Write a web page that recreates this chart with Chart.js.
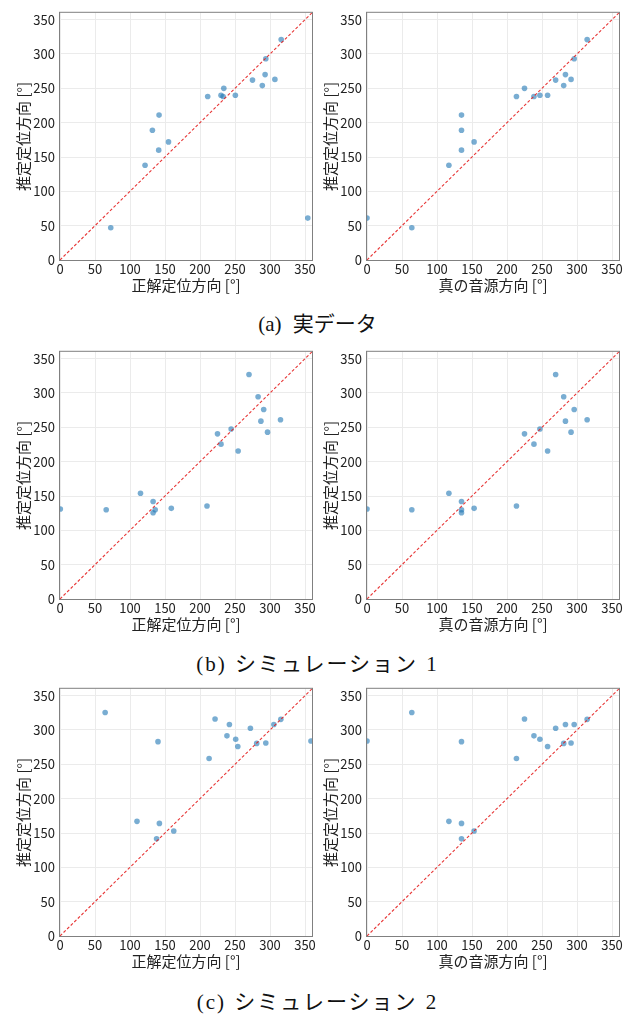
<!DOCTYPE html>
<html>
<head>
<meta charset="utf-8">
<script src="https://cdn.jsdelivr.net/npm/chart.js@4/dist/chart.umd.min.js"></script>
<style>
  body { margin: 0; background: #fff; }
  #page { position: relative; width: 633px; height: 1016px; overflow: hidden; }
  canvas { position: absolute; }
  .caption {
    position: absolute; left: 0; width: 635px; text-align: center;
    font-family: "Liberation Serif", "Noto Sans CJK JP", serif;
    font-size: 21px; line-height: 24px; color: #111; word-spacing: 6px;
  }
  .spaced { letter-spacing: 2px; word-spacing: 1px; }
</style>
</head>
<body>
<div id="page">
  <canvas id="a1"></canvas><canvas id="a2"></canvas>
  <div class="caption" style="top:312px">(a) 実データ</div>
  <canvas id="b1"></canvas><canvas id="b2"></canvas>
  <div class="caption spaced" style="top:652px">(b) シミュレーション 1</div>
  <canvas id="c1"></canvas><canvas id="c2"></canvas>
  <div class="caption spaced" style="top:990px">(c) シミュレーション 2</div>
</div>
<script>
// tick labels and the y = x reference range
const tickValues = [0, 50, 100, 150, 200, 250, 300, 350];
const diagonalRange = [0, 360];

// (a) real data: estimated direction, correct localisation direction, true source direction
const estReal = [61, 47, 138, 189, 211, 160, 172, 238, 240, 250, 238, 240, 262, 254, 270, 293, 263, 321];
const correctReal = [354, 72.5, 121.5, 132, 141.5, 141, 155, 211, 230, 234, 233, 250.5, 275, 289, 293, 294, 307, 316];
const trueReal = [0, 64, 117, 135, 135, 135, 153, 213.5, 247, 225, 238.5, 258, 269.5, 281, 283.5, 296, 291.5, 314.5];

// (b) simulation 1
const estSim1 = [131, 130, 154, 142, 125.5, 130, 132, 135.5, 240.5, 225.5, 247.5, 215.5, 327, 294.5, 276, 259, 243, 261];
const correctSim1 = [0.5, 66, 115, 133, 133, 136, 159, 210, 225, 230, 244.5, 254.5, 270, 283, 291, 287, 296.5, 315];
const trueSim1 = [0, 64, 117, 135, 135, 135, 153, 213.5, 225, 238.5, 247, 258, 269.5, 281, 296, 283.5, 291.5, 314.5];

// (c) simulation 2
const estSim2 = [325.5, 283, 167, 164, 141.5, 153, 258.5, 316, 291.5, 308, 286.5, 276, 302.5, 280.5, 281, 308, 315.5, 284];
const correctSim2 = [64.5, 140, 110, 142, 138, 162.5, 213, 221.5, 238.5, 242, 251, 254, 272, 281, 294, 305.5, 315.5, 358.5];
const trueSim2 = [64, 135, 117, 135, 135, 153, 213.5, 225, 238.5, 283.5, 247, 258, 269.5, 281, 291.5, 296, 314.5, 0];

const yTitle = '推定定位方向 [°]';
const xTitleCorrect = '正解定位方向 [°]';
const xTitleTrue = '真の音源方向 [°]';

const FONT = '"Noto Sans CJK JP", "Noto Sans", sans-serif';
const PW = 252;          // plot area side
const LEFT_COL = 60;     // plot left, left column
const RIGHT_COL = 367;   // plot left, right column
const ROW_TOPS = [8, 347, 684];

// grey box round the plot area
const framePlugin = {
    id: 'frame',
    afterDatasetsDraw(chart) {
        const { ctx, chartArea: a } = chart;
        ctx.save();
        ctx.strokeStyle = '#808080';
        ctx.lineWidth = 1;
        ctx.strokeRect(a.left - 0.5, a.top - 0.5, a.right - a.left + 1, a.bottom - a.top + 1);
        ctx.restore();
    }
};

function makePanel(id, plotLeft, plotTop, xs, ys, xTitle) {
    const canvas = document.getElementById(id);
    const w = 60 + PW + 8, h = 8 + PW + 34;
    canvas.width = w;
    canvas.height = h;
    canvas.style.left = (plotLeft - 60) + 'px';
    canvas.style.top = (plotTop - 8) + 'px';

    const axis = (title, size, pad) => ({
        type: 'linear',
        min: 0,
        max: 360,
        afterBuildTicks: s => { s.ticks = tickValues.map(v => ({ value: v })); },
        afterFit: size,
        grid: { color: '#ebebeb', drawTicks: false },
        border: { display: false },
        ticks: { padding: pad, color: '#222', autoSkip: false, maxRotation: 0, font: { family: FONT, size: 13 } },
        title: { display: true, text: title, color: '#222', padding: 0, font: { family: FONT, size: 15 } }
    });

    return new Chart(canvas.getContext('2d'), {
        type: 'scatter',
        data: {
            datasets: [
                {
                    data: xs.map((x, i) => ({ x: x, y: ys[i] })),
                    backgroundColor: 'rgba(31, 119, 180, 0.6)',
                    pointRadius: 2.8,
                    pointBorderWidth: 0,
                    clip: 0,
                    order: 1
                },
                {
                    data: diagonalRange.map(v => ({ x: v, y: v })),
                    showLine: true,
                    borderColor: 'rgba(228, 30, 30, 0.9)',
                    borderWidth: 1.1,
                    borderDash: [3, 2],
                    pointRadius: 0,
                    clip: 0,
                    order: 0
                }
            ]
        },
        options: {
            responsive: false,
            animation: false,
            devicePixelRatio: 1,
            layout: { padding: { left: 14, top: 8, right: 8, bottom: 0 } },
            scales: {
                x: axis(xTitle, s => { s.height = 34; }, 1),
                y: axis(yTitle, s => { s.width = 46; }, 5)
            },
            plugins: { legend: { display: false }, tooltip: { enabled: false } }
        },
        plugins: [framePlugin]
    });
}

makePanel('a1', LEFT_COL, ROW_TOPS[0], correctReal, estReal, xTitleCorrect);
makePanel('a2', RIGHT_COL, ROW_TOPS[0], trueReal, estReal, xTitleTrue);
makePanel('b1', LEFT_COL, ROW_TOPS[1], correctSim1, estSim1, xTitleCorrect);
makePanel('b2', RIGHT_COL, ROW_TOPS[1], trueSim1, estSim1, xTitleTrue);
makePanel('c1', LEFT_COL, ROW_TOPS[2], correctSim2, estSim2, xTitleCorrect);
makePanel('c2', RIGHT_COL, ROW_TOPS[2], trueSim2, estSim2, xTitleTrue);
</script>
</body>
</html>
